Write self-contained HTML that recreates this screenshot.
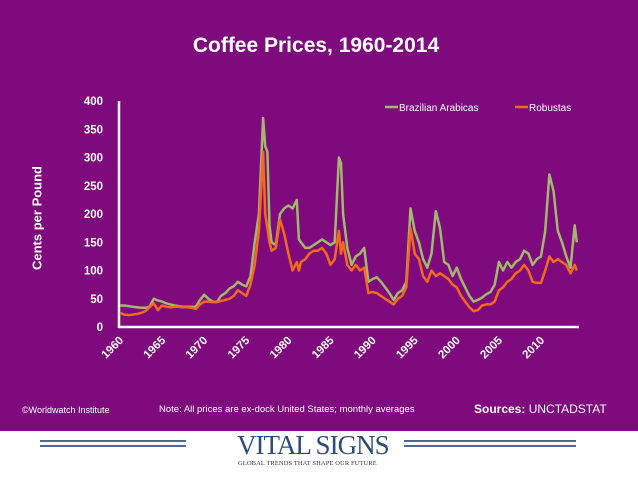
<!DOCTYPE html>
<html><head><meta charset="utf-8"><style>
body{margin:0;width:638px;height:479px;overflow:hidden;background:#fff;font-family:"Liberation Sans",sans-serif}
#bg{position:absolute;left:0;top:0;width:638px;height:431px;background:#7e0a7e}
.t{position:absolute;color:#fff;white-space:nowrap}
</style></head><body>
<div id="bg"></div>
<div class="t" style="left:0;width:632px;text-align:center;top:34px;font-size:21px;font-weight:bold">Coffee Prices, 1960-2014</div>
<div class="t" style="left:37px;top:218px;font-size:13px;font-weight:bold;transform:translate(-50%,-50%) rotate(-90deg)">Cents per Pound</div>
<svg width="638" height="431" style="position:absolute;left:0;top:0">
<g id="ax"></g><g id="marks"></g></svg>
<div class="t" style="left:22px;top:405px;font-size:9px">©Worldwatch Institute</div>
<div class="t" style="left:159px;top:404px;font-size:9.5px">Note: All prices are ex-dock United States; monthly averages</div>
<div class="t" style="left:474px;top:402px;font-size:12px"><b>Sources:</b> UNCTADSTAT</div>
<div style="position:absolute;left:0;top:431px;width:638px;height:48px">
<div style="position:absolute;left:40px;top:9px;width:146px;height:2px;background:#4a6a96"></div>
<div style="position:absolute;left:40px;top:14px;width:146px;height:2px;background:#4a6a96"></div>
<div style="position:absolute;left:404px;top:9px;width:172px;height:2px;background:#4a6a96"></div>
<div style="position:absolute;left:404px;top:14px;width:172px;height:2px;background:#4a6a96"></div>
<div class="t" style="left:237px;top:-1px;color:#2c4a7c;font-family:'Liberation Serif',serif;font-size:27px;letter-spacing:-1px">VITAL SIGNS</div>
<div class="t" style="left:238px;top:29px;color:#333;font-family:'Liberation Serif',serif;font-size:6.5px;letter-spacing:0.1px">GLOBAL TRENDS THAT SHAPE OUR FUTURE</div>
</div>
<script>
const years=[1960,1960.5,1961,1961.5,1962,1962.5,1963,1963.5,1964,1964.5,1965,1965.5,1966,1966.5,1967,1967.5,1968,1968.5,1969,1969.5,1970,1970.5,1971,1971.5,1972,1972.5,1973,1973.5,1974,1974.5,1975,1975.5,1976,1976.5,1977,1977.25,1977.5,1977.75,1978,1978.5,1979,1979.5,1980,1980.5,1981,1981.25,1981.5,1982,1982.5,1983,1983.5,1984,1984.5,1985,1985.5,1986,1986.25,1986.5,1987,1987.5,1988,1988.5,1989,1989.5,1990,1990.5,1991,1991.5,1992,1992.5,1993,1993.5,1994,1994.5,1995,1995.5,1996,1996.5,1997,1997.5,1998,1998.5,1999,1999.5,2000,2000.5,2001,2001.5,2002,2002.5,2003,2003.5,2004,2004.5,2005,2005.5,2006,2006.5,2007,2007.5,2008,2008.5,2009,2009.5,2010,2010.5,2011,2011.5,2012,2012.5,2013,2013.5,2014,2014.25];
const arabicas=[38,38,37,36,35,34,34,36,50,47,45,42,40,38,37,36,36,36,36,48,57,50,45,44,55,60,68,72,80,75,72,90,150,200,370,320,310,180,150,145,200,210,215,210,225,155,150,140,140,145,150,155,150,145,150,300,290,200,140,110,125,130,140,80,85,88,80,70,60,48,60,65,80,210,170,150,120,105,130,205,175,115,110,90,105,85,70,55,45,48,52,58,62,75,115,100,115,105,115,120,135,130,110,120,125,170,270,240,170,150,125,105,180,150];
const robustas=[25,22,21,22,23,25,28,35,42,30,38,36,35,36,36,35,35,34,32,40,45,45,44,44,46,48,50,55,65,60,55,75,110,170,310,200,175,150,135,140,190,165,130,100,115,100,115,120,130,135,135,140,130,110,120,170,130,150,110,100,110,100,105,60,62,60,55,50,45,40,50,55,70,175,130,120,90,80,100,90,95,90,85,75,70,55,45,35,28,30,38,40,40,45,65,70,80,85,95,100,110,100,80,78,78,100,125,115,120,115,110,95,110,100];
const yTicks=[0,50,100,150,200,250,300,350,400];
const xTicks=[1960,1965,1970,1975,1980,1985,1990,1995,2000,2005,2010];
const X=y=>120+(y-1960)*8.42, Y=v=>327-v*0.565;
const NS='http://www.w3.org/2000/svg';
const ax=document.getElementById('ax'), mk=document.getElementById('marks');
function el(t,a,p){const e=document.createElementNS(NS,t);for(const k in a)e.setAttribute(k,a[k]);p.appendChild(e);return e;}
const ya=el('line',{x1:119,y1:101,x2:119,y2:328,stroke:'#fff','stroke-width':2.5},ax);


const xa=el('line',{x1:118,y1:327,x2:579,y2:327,stroke:'#fff','stroke-width':2.5},ax);


yTicks.forEach(v=>{const t=el('text',{x:103,y:Y(v)+4,'text-anchor':'end',fill:'#fff','font-size':11.5,'font-weight':'bold','font-family':'Liberation Sans, sans-serif'},ax);t.textContent=v;

});
xTicks.forEach(v=>{const x=X(v);const t=el('text',{x:0,y:0,'text-anchor':'end',fill:'#fff','font-size':11.5,'font-weight':'bold','font-family':'Liberation Sans, sans-serif',transform:`translate(${x+4},${341}) rotate(-45)`},ax);t.textContent=v;

});
function line(vals,col,name){const d=years.map((y,i)=>(i?'L':'M')+X(y).toFixed(1)+','+Y(vals[i]).toFixed(1)).join('');
const p=el('path',{d,fill:'none',stroke:col,'stroke-width':2.5,'stroke-linejoin':'round'},mk);

}
line(arabicas,'#a3b86c','arabicas-line');
line(robustas,'#f26a1f','robustas-line');
[[385,'#a3b86c','Brazilian Arabicas','legend-arabicas'],[515,'#f26a1f','Robustas','legend-robustas']].forEach(([x,c,s,n])=>{
const g=el('g',{},ax);


el('line',{x1:x,y1:107,x2:x+13,y2:107,stroke:c,'stroke-width':2.5},g);
const t=el('text',{x:x+14,y:111,fill:'#fff','font-size':10,'font-family':'Liberation Sans, sans-serif'},g);t.textContent=s;});
</script>
</body></html>
